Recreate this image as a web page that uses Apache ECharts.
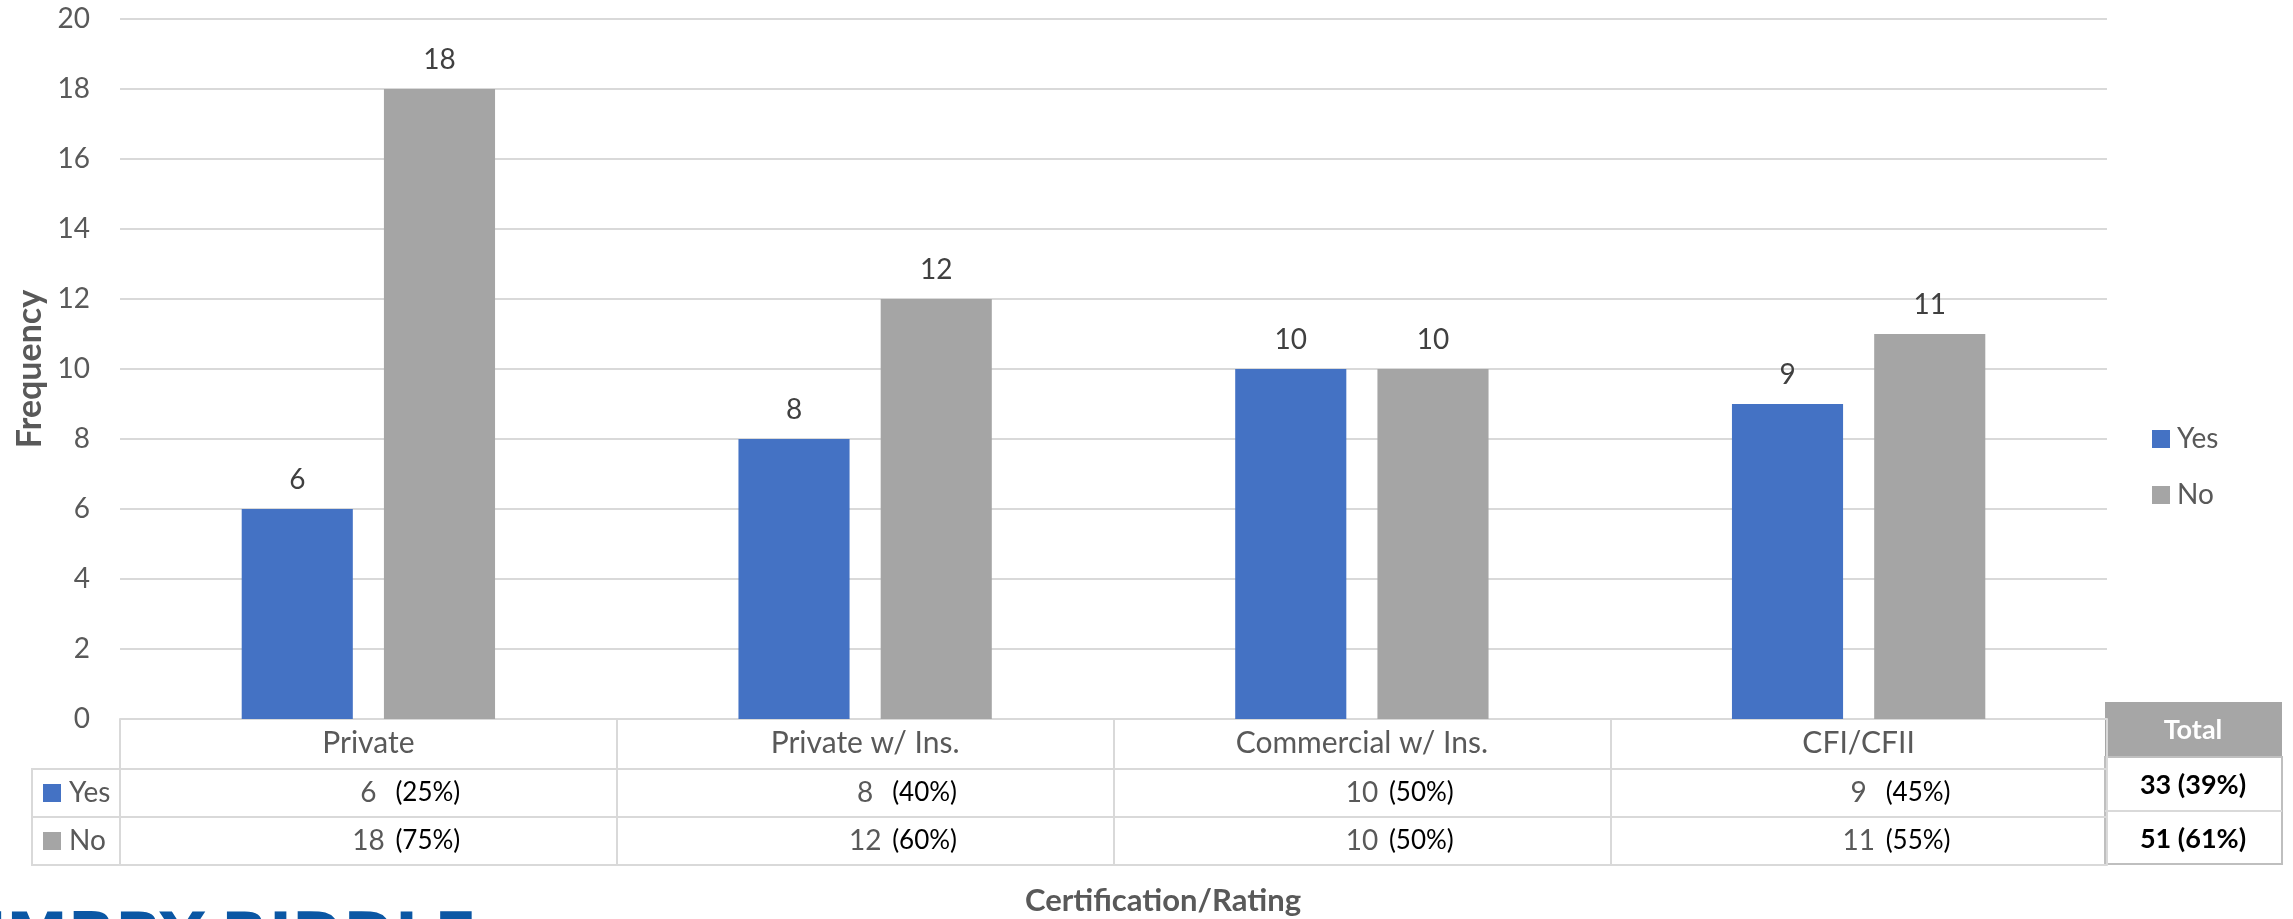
<!DOCTYPE html>
<html>
<head>
<meta charset="utf-8">
<script src="https://cdn.jsdelivr.net/npm/echarts@6/dist/echarts.min.js"></script>
<style>
  html, body { margin: 0; padding: 0; background: #ffffff; }
  #chart { width: 2293px; height: 919px; }
</style>
</head>
<body>
<div id="chart"></div>
<script>
// Survey counts by certification / rating
const categories = ['Private', 'Private w/ Ins.', 'Commercial w/ Ins.', 'CFI/CFII'];
const seriesNames = ['Yes', 'No'];
const yesValues = [6, 8, 10, 9];
const noValues = [18, 12, 10, 11];

// Frequency axis ticks
const yMin = 0;
const yMax = 20;
const yStep = 2;

const FONT = 'Lato';
const GRID = { left: 120, right: 186, top: 19, bottom: 200 };
const GRAY_TEXT = '#595959';
const LINE = '#d9d9d9';

const pct = (a, b) => Math.round(a / (a + b) * 100) + '%';
const sum = arr => arr.reduce((s, v) => s + v, 0);
const yesTotal = sum(yesValues);
const noTotal = sum(noValues);

const cellLabel = {
  interval: 0, margin: 9, fontFamily: FONT, fontSize: 28, lineHeight: 30, color: GRAY_TEXT
};

// One category axis per data-table row, stacked below the plot with offsets
function tableAxis(offset, opts) {
  return Object.assign({
    type: 'category',
    data: categories,
    position: 'bottom',
    offset: offset,
    axisLine: { show: true, lineStyle: { color: LINE, width: 2 } },
    axisTick: { show: false },
    axisLabel: cellLabel
  }, opts);
}

const percentLabel = (vals, other) => ({
  interval: 0, margin: 9, fontFamily: FONT, fontSize: 26, lineHeight: 30, color: '#000000',
  align: 'left', padding: [0, 0, 0, 27],
  formatter: (v, i) => '(' + pct(vals[i], other[i]) + ')'
});

const chart = echarts.init(document.getElementById('chart'));

const option = {
  backgroundColor: '#ffffff',
  animation: false,
  grid: GRID,
  legend: [
    {
      data: seriesNames, orient: 'vertical', left: 2152, top: 424, padding: 0,
      itemWidth: 18, itemHeight: 18, itemGap: 26, icon: 'rect', selectedMode: false,
      textStyle: { fontFamily: FONT, fontSize: 28, lineHeight: 30, color: GRAY_TEXT, padding: [0, 0, 0, 2] }
    },
    {
      data: seriesNames, orient: 'vertical', left: 43, top: 778, padding: 0,
      itemWidth: 18, itemHeight: 18, itemGap: 18, icon: 'rect', selectedMode: false,
      textStyle: { fontFamily: FONT, fontSize: 28, lineHeight: 30, color: GRAY_TEXT, padding: [0, 0, 0, 3] }
    }
  ],
  xAxis: [
    // header row: category names, boundary ticks form the table's column lines
    tableAxis(0, {
      axisTick: { show: true, length: 146, interval: 0, lineStyle: { color: LINE, width: 2 } },
      axisLabel: Object.assign({}, cellLabel, { fontSize: 30 })
    }),
    // Yes row
    tableAxis(50, { axisLabel: Object.assign({}, cellLabel, { formatter: (v, i) => String(yesValues[i]) }) }),
    tableAxis(50, { axisLine: { show: false }, axisLabel: percentLabel(yesValues, noValues) }),
    // No row
    tableAxis(98, { axisLabel: Object.assign({}, cellLabel, { formatter: (v, i) => String(noValues[i]) }) }),
    tableAxis(98, { axisLine: { show: false }, axisLabel: percentLabel(noValues, yesValues) }),
    // bottom border of the table
    tableAxis(146, { axisLabel: { show: false } })
  ],
  yAxis: {
    type: 'value',
    min: yMin, max: yMax, interval: yStep,
    axisLine: { show: false },
    axisTick: { show: false },
    splitLine: { lineStyle: { color: LINE, width: 2 } },
    axisLabel: { fontFamily: FONT, fontSize: 28, color: GRAY_TEXT, margin: 30 },
    name: 'Frequency',
    nameLocation: 'middle',
    nameRotate: 90,
    nameGap: 70,
    nameTextStyle: { fontFamily: FONT, fontSize: 34, fontWeight: 'bold', color: GRAY_TEXT, lineHeight: 34 }
  },
  series: [
    {
      name: seriesNames[0], type: 'bar', xAxisIndex: 0, data: yesValues,
      barCategoryGap: '49%', barGap: '28%',
      itemStyle: { color: '#4472c4' },
      label: { show: true, position: 'top', distance: 14, fontFamily: FONT, fontSize: 28, lineHeight: 30, color: '#404040' }
    },
    {
      name: seriesNames[1], type: 'bar', xAxisIndex: 0, data: noValues,
      barCategoryGap: '49%', barGap: '28%',
      itemStyle: { color: '#a5a5a5' },
      label: { show: true, position: 'top', distance: 14, fontFamily: FONT, fontSize: 28, lineHeight: 30, color: '#404040' }
    }
  ],
  graphic: [
    // legend column of the data table
    { type: 'rect', shape: { x: 32, y: 769, width: 88, height: 96 }, style: { fill: 'none', stroke: LINE, lineWidth: 2 } },
    { type: 'line', shape: { x1: 32, y1: 817, x2: 120, y2: 817 }, style: { stroke: LINE, lineWidth: 2 } },
    // totals box
    { type: 'rect', shape: { x: 2105, y: 702, width: 177, height: 55 }, style: { fill: '#a6a6a6' } },
    { type: 'rect', shape: { x: 2105, y: 757, width: 177, height: 107 }, style: { fill: '#ffffff', stroke: '#bfbfbf', lineWidth: 2 } },
    { type: 'line', shape: { x1: 2105, y1: 811, x2: 2282, y2: 811 }, style: { stroke: LINE, lineWidth: 2 } },
    { type: 'text', x: 2193, y: 730, style: { text: 'Total', align: 'center', verticalAlign: 'middle', fill: '#ffffff', font: 'bold 27px Lato' } },
    { type: 'text', x: 2193, y: 785, style: { text: yesTotal + ' (' + pct(yesTotal, noTotal) + ')', align: 'center', verticalAlign: 'middle', fill: '#000000', font: 'bold 27px Lato' } },
    { type: 'text', x: 2193, y: 839, style: { text: noTotal + ' (' + pct(noTotal, yesTotal) + ')', align: 'center', verticalAlign: 'middle', fill: '#000000', font: 'bold 27px Lato' } },
    // x-axis title
    { type: 'text', x: 1163, y: 901, style: { text: 'Certification/Rating', align: 'center', verticalAlign: 'middle', fill: GRAY_TEXT, font: 'bold 31px Lato' } },
    // wordmark along the bottom edge
    { type: 'text', x: -36, y: 941, style: { text: 'EMBRY-RIDDLE', align: 'left', verticalAlign: 'middle', fill: '#0b57a4', font: 'bold 62px "DejaVu Sans"' } }
  ]
};

chart.setOption(option);
</script>
</body>
</html>
